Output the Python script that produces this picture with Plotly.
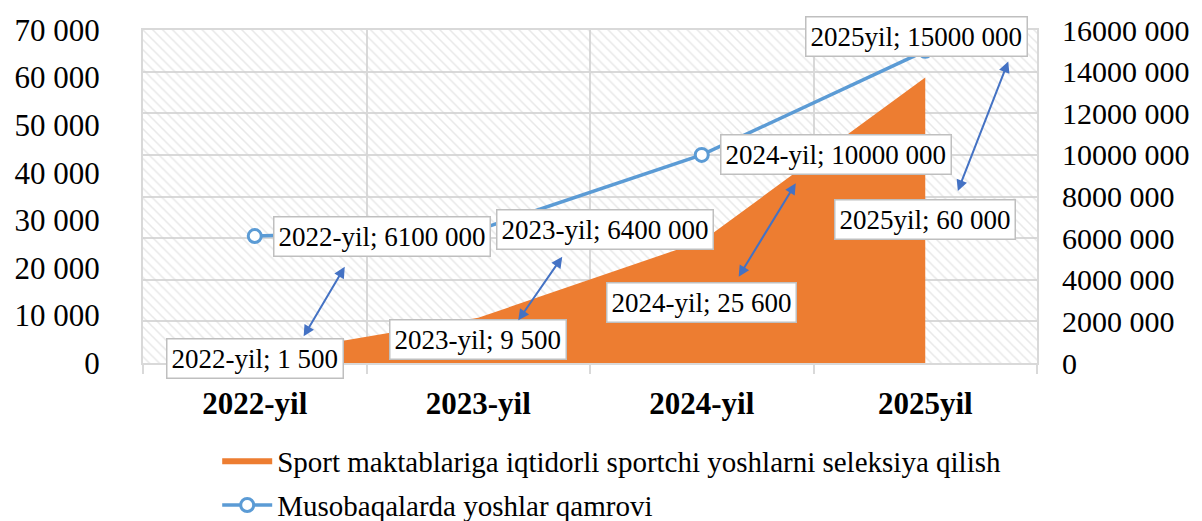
import plotly.graph_objects as go

categories = ["2022-yil", "2023-yil", "2024-yil", "2025yil"]
selection = [1500, 9500, 25600, 60000]           # left axis (area)
coverage = [6100000, 6400000, 10000000, 15000000]  # right axis (line)
left_ticks = [0, 10000, 20000, 30000, 40000, 50000, 60000, 70000]
right_ticks = [0, 2000000, 4000000, 6000000, 8000000, 10000000, 12000000, 14000000, 16000000]
name_area = "Sport maktablariga iqtidorli sportchi yoshlarni seleksiya qilish"
name_line = "Musobaqalarda yoshlar qamrovi"

FONT = "Liberation Serif, Times New Roman, serif"
ORANGE = "#ED7D31"
BLUE = "#5B9BD5"
ARROW = "#4472C4"
GRID = "#d9d9d9"


def fmt(v):
    s = str(int(v))
    return s if len(s) <= 3 else s[:-3] + " " + s[-3:]


n = len(categories)
xs = list(range(n))

fig = go.Figure()

# hatched plot background
fig.add_trace(go.Bar(
    x=[(n - 1) / 2], y=[max(left_ticks)], width=[n], yaxis="y",
    marker=dict(color="rgba(0,0,0,0)", line=dict(width=0),
                pattern=dict(shape="\\", fgcolor="#d2d2d2", bgcolor="rgba(0,0,0,0)",
                             size=7, solidity=0.22)),
    showlegend=False, hoverinfo="skip"))

fig.add_trace(go.Scatter(
    x=xs, y=selection, mode="lines", fill="tozeroy", fillcolor=ORANGE,
    line=dict(color=ORANGE, width=0), name=name_area, yaxis="y", legendgroup="a"))

fig.add_trace(go.Scatter(
    x=xs, y=coverage, mode="lines+markers", name=name_line, yaxis="y2", legendgroup="b",
    line=dict(color=BLUE, width=3.5),
    marker=dict(symbol="circle", size=13, color="white", line=dict(color=BLUE, width=3))))

# data labels
line_shift = [(127, 0), (127, 0), (134, 0), (-9, 14)]
area_shift = [(0, -3), (0, -22), (0, -61), (0, -142)]
arrow_geo = [(90, 89, -42, 71), (84, 61, -45, 65), (94, 58, -58, 95), (83, 16, -51, 131)]

LBL = dict(family=FONT, size=27, color="black")
annotations = []
for i, c in enumerate(categories):
    annotations.append(dict(
        x=i, y=coverage[i], xref="x", yref="y2", text=f"{c}; {fmt(coverage[i])}",
        showarrow=False, xshift=line_shift[i][0], yshift=line_shift[i][1],
        bgcolor="white", bordercolor="#bfbfbf", borderwidth=1.5, borderpad=4, font=LBL))
    annotations.append(dict(
        x=i, y=selection[i], xref="x", yref="y", text=f"{c}; {fmt(selection[i])}",
        showarrow=False, xshift=area_shift[i][0], yshift=area_shift[i][1],
        bgcolor="white", bordercolor="#bfbfbf", borderwidth=1.5, borderpad=4, font=LBL))
    xs_, ys_, ax_, ay_ = arrow_geo[i]
    annotations.append(dict(
        x=i, y=selection[i], xref="x", yref="y", text="",
        showarrow=True, xshift=xs_, yshift=ys_, ax=ax_, ay=ay_,
        axref="pixel", ayref="pixel",
        arrowside="end+start", arrowhead=2, startarrowhead=2,
        arrowsize=1.1, startarrowsize=1.1, arrowwidth=2, arrowcolor=ARROW,
        standoff=0, startstandoff=0))

minor_vals = [i - 0.5 for i in range(n + 1)]

# page body has an 8px margin; the figure is sized/offset to compensate
fig.update_layout(
    width=1194, height=513,
    margin=dict(l=135, r=165, t=22, b=158, autoexpand=False),
    paper_bgcolor="white", plot_bgcolor="white",
    font=dict(family=FONT, color="black"),
    hovermode=False,
    barmode="overlay",
    annotations=annotations,
    xaxis=dict(
        range=[-0.5, n - 0.5], tickvals=xs, ticktext=categories,
        tickfont=dict(family=FONT, size=31, color="black", weight="bold"),
        ticks="", ticklabelstandoff=12, showgrid=False, zeroline=False,
        showline=True, linecolor=GRID, linewidth=2, mirror=True,
        minor=dict(tickvals=minor_vals, showgrid=True, gridcolor=GRID, gridwidth=2,
                   ticks="outside", ticklen=9, tickcolor=GRID, tickwidth=2),
    ),
    yaxis=dict(
        range=[0, max(left_ticks)], tickvals=left_ticks, ticktext=[fmt(v) for v in left_ticks],
        tickfont=dict(family=FONT, size=31, color="black"),
        showgrid=False, zeroline=False, ticks="", ticklabelstandoff=35,
        showline=True, linecolor=GRID, linewidth=2, mirror=True,
    ),
    yaxis2=dict(
        range=[0, max(right_ticks)], tickvals=right_ticks, ticktext=[fmt(v) for v in right_ticks],
        tickfont=dict(family=FONT, size=30, color="black"),
        overlaying="y", side="right", showgrid=True, gridcolor=GRID, gridwidth=2,
        zeroline=False, ticks="", ticklabelstandoff=24, showline=False,
    ),
    legend=dict(
        x=0.083, y=-0.216, xanchor="left", yanchor="top", orientation="v",
        font=dict(family=FONT, size=29, color="black"), bgcolor="rgba(0,0,0,0)",
        tracegroupgap=4, itemwidth=50,
    ),
)

fig.write_html("out.html")
